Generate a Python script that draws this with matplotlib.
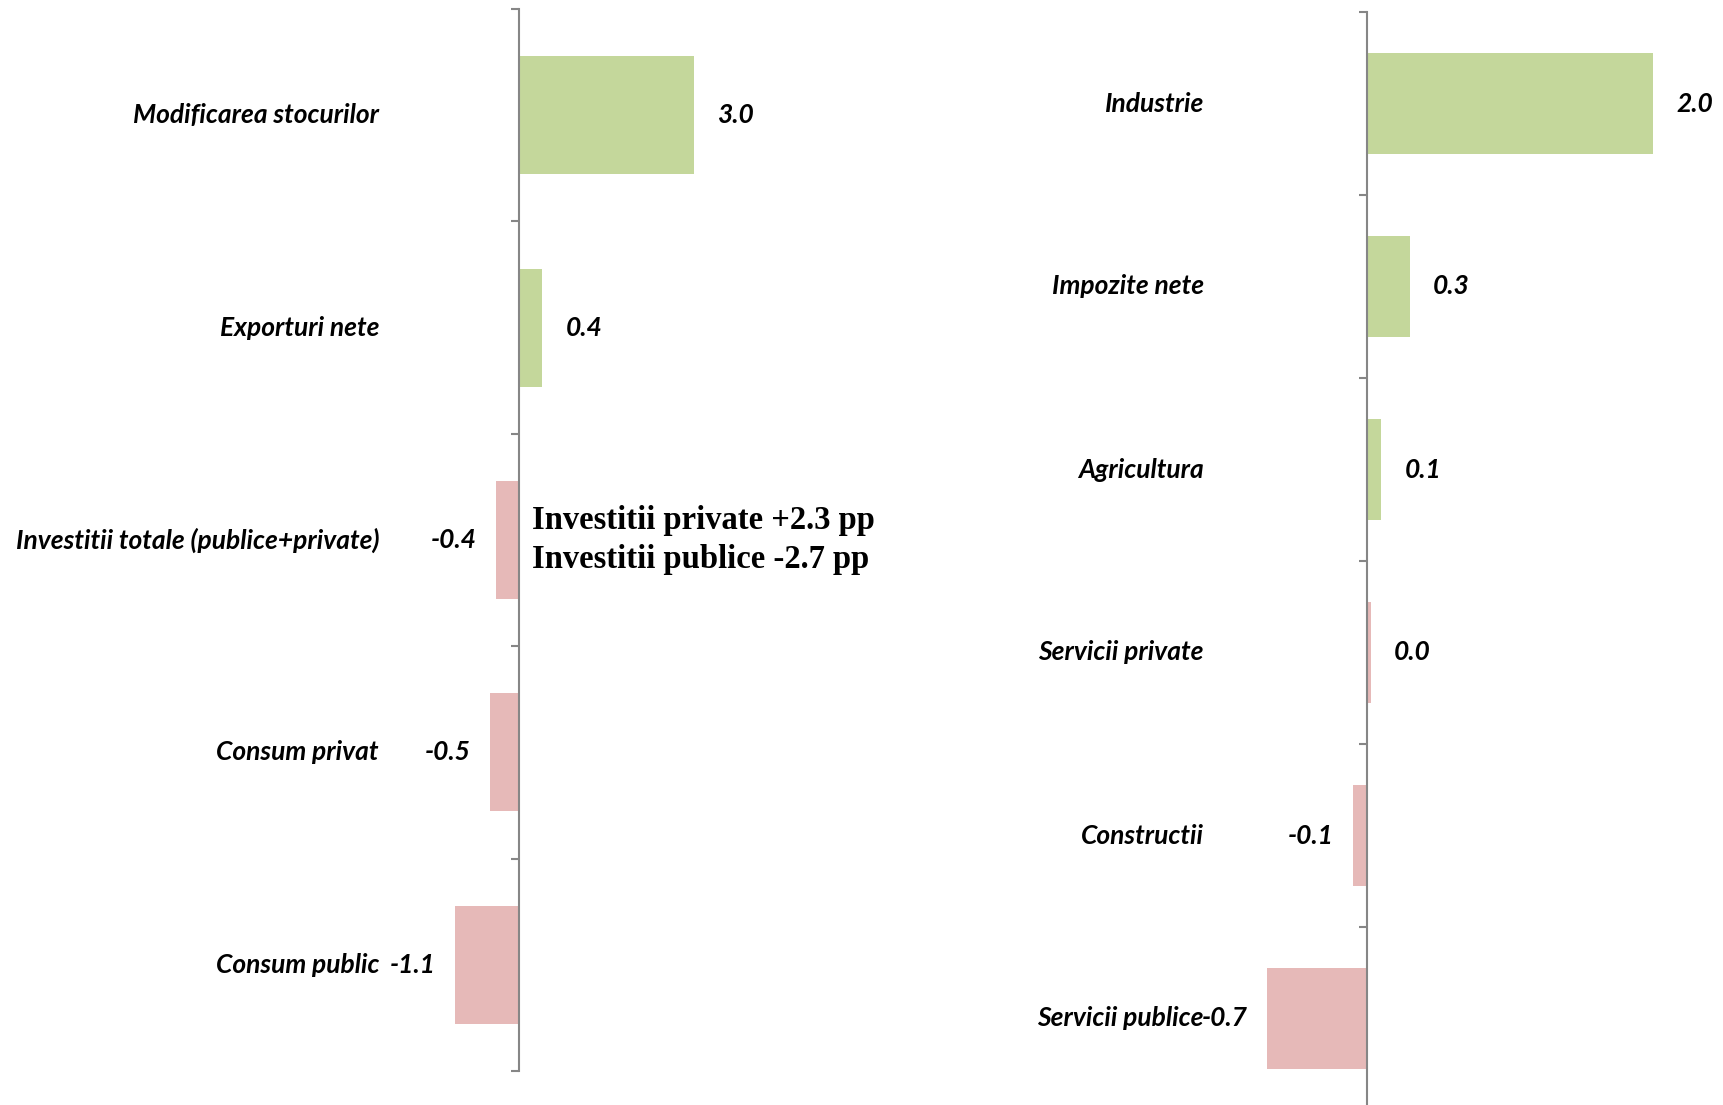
import numpy as np
import matplotlib
matplotlib.use('Agg')
import matplotlib.pyplot as plt

# contributions to growth, demand side (left) and supply side (right)
demand_labels = ['Modificarea stocurilor', 'Exporturi nete',
                 'Investitii totale (publice+private)', 'Consum privat', 'Consum public']
demand_values = [3.0, 0.4, -0.4, -0.5, -1.1]

supply_labels = ['Industrie', 'Impozite nete', 'Agricultura', 'Servicii private',
                 'Constructii', 'Servicii publice']
supply_values = [2.0, 0.3, 0.1, 0.03, -0.1, -0.7]

note_lines = ['Investitii private +2.3 pp', 'Investitii publice -2.7 pp']

GREEN = '#C4D79B'
PINK = '#E6B9B8'
GREY = '#868686'

W, H = 1723, 1105
fig = plt.figure(figsize=(W / 100, H / 100), dpi=100)

lab_font = dict(family=['Lato', 'DejaVu Sans'], weight='bold', style='italic', size=19)


def panel(x0, x1, y0, y1, zero_px, px_unit, labels, values, colors):
    ax = fig.add_axes([x0 / W, 1 - y1 / H, (x1 - x0) / W, (y1 - y0) / H])
    n = len(values)
    pos = np.arange(n)
    ax.barh(pos, values, height=0.556, color=colors, zorder=1)
    ax.set_xlim(-(zero_px - x0) / px_unit, (x1 - zero_px) / px_unit)
    ax.set_ylim(n - 0.5, -0.5)
    for s in ['top', 'right', 'bottom']:
        ax.spines[s].set_visible(False)
    ax.spines['left'].set_position(('data', 0))
    ax.spines['left'].set_color(GREY)
    ax.spines['left'].set_linewidth(1.5)
    ax.spines['left'].set_zorder(3)
    ax.set_xticks([])
    ax.set_yticks(np.arange(-0.5, n, 1))
    ax.set_yticklabels([])
    ax.tick_params(axis='y', direction='out', length=6, width=1.5, color=GREY)
    for i, (lab, v) in enumerate(zip(labels, values)):
        ax.annotate(lab, xy=(0, i), xycoords=('axes fraction', 'data'),
                    xytext=(-6, 0), textcoords='offset pixels',
                    ha='right', va='center', **lab_font)
        off = 23 if v >= 0 else -19
        ax.annotate(f'{v:.1f}', xy=(v, i), xytext=(off, 0), textcoords='offset pixels',
                    ha='left' if v >= 0 else 'right', va='center', **lab_font)
    return ax


left_colors = [GREEN if v > 0 else PINK for v in demand_values]
axl = panel(385, 900, 9, 1071, 519, 58.3, demand_labels, demand_values, left_colors)

right_colors = [GREEN, GREEN, GREEN, PINK, PINK, PINK]
axr = panel(1210, 1723, 12, 1110, 1367, 143, supply_labels, supply_values, right_colors)

# note next to the investment bar
axl.text(0.22, 2.0, '\n'.join(note_lines), ha='left', va='center',
         family=['Liberation Serif', 'DejaVu Serif'], weight='bold', size=23.5,
         linespacing=1.3)

fig.savefig('out.png', dpi=100)
